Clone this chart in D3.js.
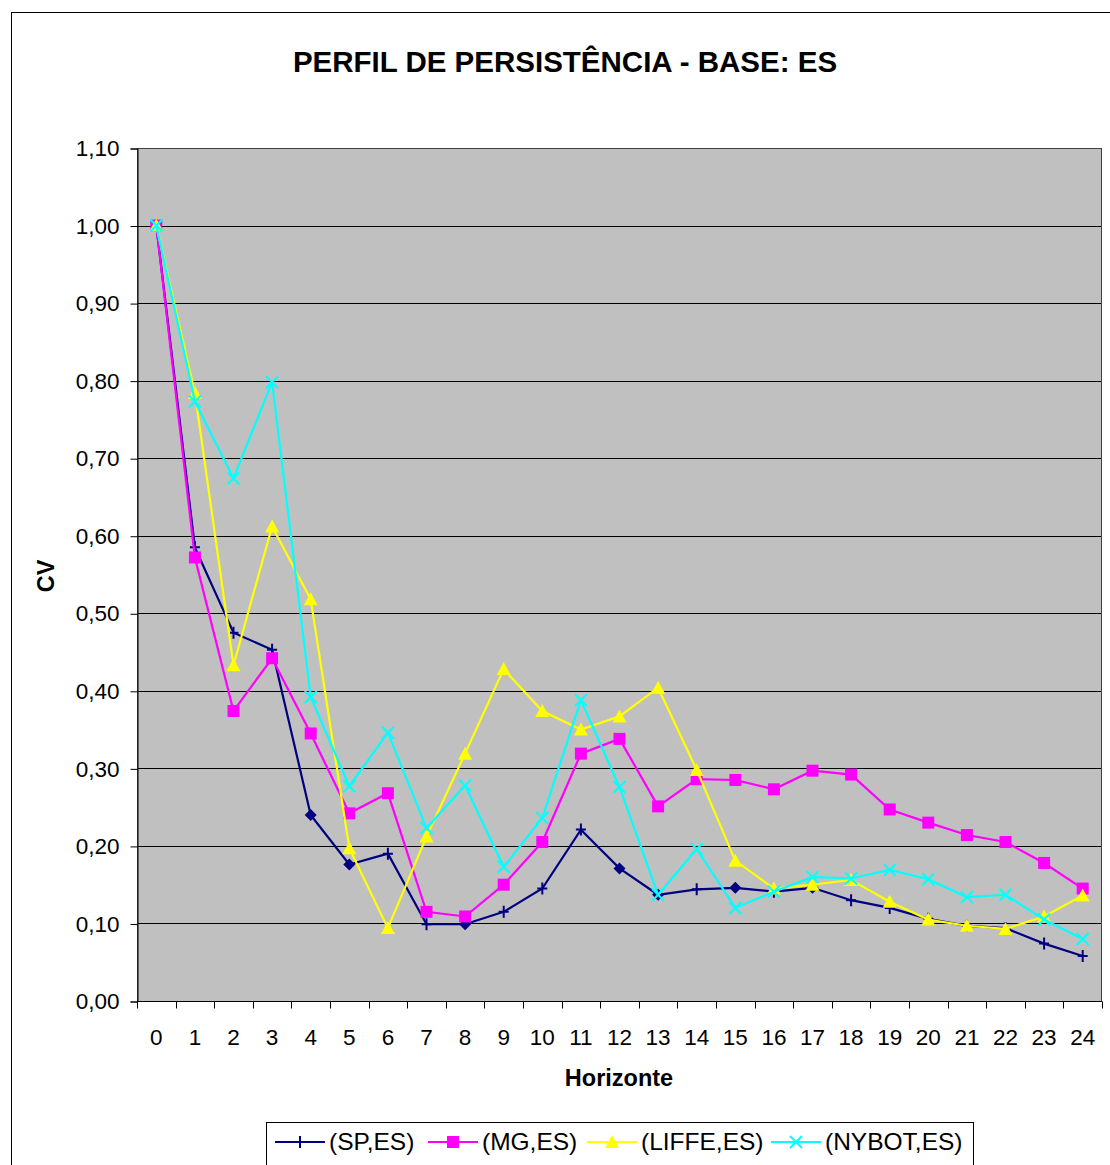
<!DOCTYPE html>
<html>
<head>
<meta charset="utf-8">
<script src="https://cdn.jsdelivr.net/npm/d3@7"></script>
<style>
  html, body { margin: 0; padding: 0; background: #fff; }
  svg { display: block; font-family: "Liberation Sans", Arial, sans-serif; }
</style>
</head>
<body>
<svg id="chart" width="1110" height="1165"></svg>
<script>
// Horizon (lag) categories and CV persistence profiles per market pair
const horizons = d3.range(0, 25).map(String);
const yTicks = [0, 0.1, 0.2, 0.3, 0.4, 0.5, 0.6, 0.7, 0.8, 0.9, 1.0, 1.1];

const spES = [1.00, 0.585, 0.475, 0.453, 0.240, 0.176, 0.190, 0.099, 0.099, 0.115,
  0.145, 0.221, 0.171, 0.137, 0.144, 0.146, 0.141, 0.146, 0.130, 0.120,
  0.106, 0.097, 0.094, 0.074, 0.058];
const mgES = [1.00, 0.572, 0.374, 0.442, 0.345, 0.242, 0.268, 0.115, 0.109, 0.150,
  0.205, 0.319, 0.338, 0.251, 0.286, 0.285, 0.273, 0.297, 0.292, 0.247,
  0.230, 0.214, 0.205, 0.178, 0.145];
const liffeES = [1.00, 0.784, 0.433, 0.612, 0.518, 0.197, 0.094, 0.212, 0.319, 0.428,
  0.374, 0.350, 0.367, 0.404, 0.298, 0.181, 0.145, 0.150, 0.156, 0.128,
  0.105, 0.097, 0.093, 0.109, 0.136];
const nybotES = [1.00, 0.773, 0.674, 0.798, 0.392, 0.277, 0.346, 0.223, 0.278, 0.173,
  0.236, 0.388, 0.276, 0.137, 0.196, 0.120, 0.141, 0.160, 0.158, 0.169,
  0.157, 0.134, 0.137, 0.105, 0.080];

const seriesNames = ["(SP,ES)", "(MG,ES)", "(LIFFE,ES)", "(NYBOT,ES)"];

const series = [
  { name: seriesNames[0], values: spES, color: "#000080", marker: "plus" },
  { name: seriesNames[1], values: mgES, color: "#FF00FF", marker: "square" },
  { name: seriesNames[2], values: liffeES, color: "#FFFF00", marker: "triangle" },
  { name: seriesNames[3], values: nybotES, color: "#00FFFF", marker: "cross" }
];
// points of the SP series drawn with a diamond marker instead of the tick
const spDiamondPoints = new Set([4, 5, 8, 12, 13, 15, 17]);

const svg = d3.select("#chart");

// outer chart frame
svg.append("rect")
  .attr("x", 11.5).attr("y", 12.5)
  .attr("width", 1120).attr("height", 1180)
  .attr("fill", "#fff").attr("stroke", "#000").attr("stroke-width", 1);

const plot = { left: 137, top: 148, right: 1102, bottom: 1001 };

const x = d3.scaleBand().domain(horizons).range([plot.left, plot.right]).padding(0);
const y = d3.scaleLinear().domain([0, 1.1]).range([plot.bottom, plot.top]);

// plot background
svg.append("rect")
  .attr("x", plot.left).attr("y", plot.top)
  .attr("width", plot.right - plot.left).attr("height", plot.bottom - plot.top)
  .attr("fill", "#C0C0C0");

// horizontal gridlines
svg.append("g").selectAll("line")
  .data(yTicks.slice(1))
  .join("line")
  .attr("x1", plot.left).attr("x2", plot.right)
  .attr("y1", d => Math.round(y(d)) + 0.5).attr("y2", d => Math.round(y(d)) + 0.5)
  .attr("stroke", "#000").attr("stroke-width", 1);

// plot border
svg.append("rect")
  .attr("x", plot.left + 0.5).attr("y", plot.top + 0.5)
  .attr("width", plot.right - plot.left - 1).attr("height", plot.bottom - plot.top)
  .attr("fill", "none").attr("stroke", "#404040").attr("stroke-width", 1);

const fmt = d => d.toFixed(2).replace(".", ",");

// y axis
const yAxis = svg.append("g")
  .attr("transform", `translate(${plot.left + 0.5},0.5)`)
  .call(d3.axisLeft(y).tickValues(yTicks).tickFormat(fmt).tickSize(7).tickPadding(11));
yAxis.select(".domain").attr("stroke", "#000");
yAxis.selectAll(".tick line").attr("stroke", "#000");
yAxis.selectAll("text")
  .attr("font-size", 22.5).attr("fill", "#000")
  .attr("font-family", "'Liberation Sans', Arial, sans-serif");

// x axis: ticks sit on category boundaries, labels centred in each band
const xAxis = svg.append("g")
  .attr("transform", `translate(0,${plot.bottom + 0.5})`);
xAxis.append("line")
  .attr("x1", plot.left).attr("x2", plot.right)
  .attr("stroke", "#000");
xAxis.selectAll("line.tk")
  .data(horizons.concat(["end"]))
  .join("line").attr("class", "tk")
  .attr("x1", (d, i) => Math.round(plot.left + i * x.bandwidth()) + 0.5)
  .attr("x2", (d, i) => Math.round(plot.left + i * x.bandwidth()) + 0.5)
  .attr("y1", 0).attr("y2", 7)
  .attr("stroke", "#000");
xAxis.selectAll("text")
  .data(horizons)
  .join("text")
  .attr("x", d => x(d) + x.bandwidth() / 2)
  .attr("y", 43)
  .attr("text-anchor", "middle")
  .attr("font-size", 22.5)
  .text(d => d);

// title and axis titles
svg.append("text")
  .attr("x", 565).attr("y", 72)
  .attr("text-anchor", "middle")
  .attr("font-size", 29.5).attr("font-weight", "bold")
  .text("PERFIL DE PERSISTÊNCIA - BASE: ES");

svg.append("text")
  .attr("x", 619).attr("y", 1086)
  .attr("text-anchor", "middle")
  .attr("font-size", 23.5).attr("font-weight", "bold")
  .text("Horizonte");

svg.append("text")
  .attr("transform", "translate(54,576) rotate(-90)")
  .attr("text-anchor", "middle")
  .attr("font-size", 23.5).attr("font-weight", "bold")
  .text("CV");

// markers
function drawMarker(g, type, cx, cy, color) {
  if (type === "square") {
    g.append("rect").attr("x", cx - 6).attr("y", cy - 6).attr("width", 12).attr("height", 12)
      .attr("fill", color);
  } else if (type === "triangle") {
    g.append("path")
      .attr("d", `M${cx},${cy - 7}L${cx + 7},${cy + 6}L${cx - 7},${cy + 6}Z`)
      .attr("fill", color);
  } else if (type === "cross") {
    g.append("path")
      .attr("d", `M${cx - 6},${cy - 6}L${cx + 6},${cy + 6}M${cx + 6},${cy - 6}L${cx - 6},${cy + 6}`)
      .attr("stroke", color).attr("stroke-width", 2).attr("fill", "none");
  } else if (type === "plus") {
    g.append("path")
      .attr("d", `M${cx},${cy - 6}L${cx},${cy + 6}M${cx - 5},${cy}L${cx + 5},${cy}`)
      .attr("stroke", color).attr("stroke-width", 2).attr("fill", "none");
  } else if (type === "diamond") {
    g.append("path")
      .attr("d", `M${cx},${cy - 6}L${cx + 6},${cy}L${cx},${cy + 6}L${cx - 6},${cy}Z`)
      .attr("fill", color);
  }
}

const line = d3.line()
  .x((d, i) => x(horizons[i]) + x.bandwidth() / 2)
  .y(d => y(d));

// each series: line then markers, in legend order
series.forEach(s => {
  const g = svg.append("g");
  g.append("path")
    .attr("d", line(s.values))
    .attr("fill", "none")
    .attr("stroke", s.color)
    .attr("stroke-width", 2.2);
  s.values.forEach((v, i) => {
    let type = s.marker;
    if (s === series[0] && spDiamondPoints.has(i)) type = "diamond";
    drawMarker(g, type, x(horizons[i]) + x.bandwidth() / 2, y(v), s.color);
  });
});

// legend
const legend = svg.append("g");
legend.append("rect")
  .attr("x", 266.5).attr("y", 1122.5)
  .attr("width", 707).attr("height", 60)
  .attr("fill", "#fff").attr("stroke", "#000");

const legendItems = [
  { x: 275 }, { x: 428 }, { x: 587 }, { x: 771 }
];
series.forEach((s, i) => {
  const lx = legendItems[i].x;
  const ly = 1142;
  legend.append("line")
    .attr("x1", lx).attr("x2", lx + 50)
    .attr("y1", ly).attr("y2", ly)
    .attr("stroke", s.color).attr("stroke-width", 2.2);
  drawMarker(legend, s.marker, lx + 25, ly, s.color);
  legend.append("text")
    .attr("x", lx + 54).attr("y", ly + 8)
    .attr("font-size", 24.5)
    .text(s.name);
});
</script>
</body>
</html>
